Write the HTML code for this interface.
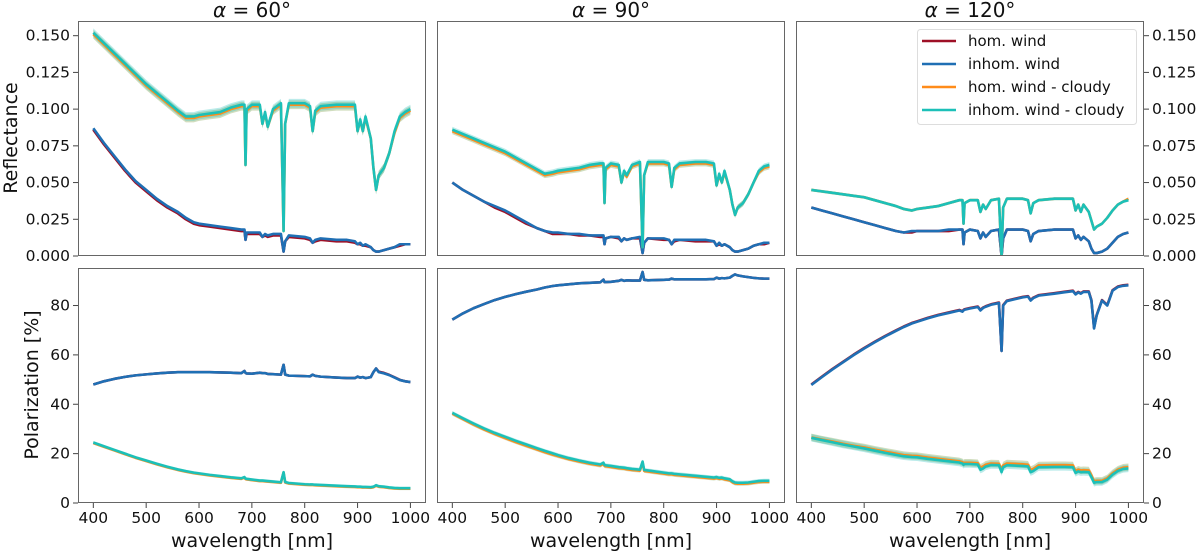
<!DOCTYPE html>
<html><head><meta charset="utf-8"><style>
body{margin:0;background:#fff}
svg{display:block;font-family:"DejaVu Sans","Liberation Sans",sans-serif}
</style></head><body>
<svg id="fig" width="1200" height="553" viewBox="0 0 1200 553"></svg>
<script>
const W=[400,420,440,460,480,500,520,540,560,575,590,600,620,640,660,680,686,688,690,700,715,720,725,730,740,755,760,763,770,800,810,815,820,830,860,880,895,900,905,910,915,925,930,935,940,950,960,970,980,990,1000];
// Reflectance alpha=60
const r60Inhom=[.087,.077,.068,.059,.051,.045,.039,.034,.030,.026,.023,.022,.021,.020,.019,.018,.018,.011,.016,.016,.016,.013,.015,.014,.015,.015,.003,.010,.014,.013,.012,.009,.011,.012,.011,.011,.010,.008,.009,.007,.008,.006,.004,.003,.003,.004,.005,.006,.008,.008,.008];
const r60Hom=[.086,.076,.067,.058,.050,.044,.038,.033,.029,.025,.022,.021,.020,.019,.018,.017,.017,.011,.015,.015,.015,.013,.014,.013,.014,.014,.003,.010,.013,.012,.011,.009,.010,.011,.010,.010,.009,.008,.008,.007,.007,.006,.004,.003,.003,.004,.005,.006,.007,.008,.008];
const r60InhomC=[.152,.145,.138,.131,.124,.117,.111,.105,.099,.095,.095,.096,.097,.098,.101,.103,.103,.062,.100,.103,.103,.090,.098,.088,.100,.104,.017,.090,.104,.104,.102,.085,.099,.102,.103,.103,.103,.085,.093,.085,.095,.080,.060,.045,.055,.060,.070,.085,.095,.098,.100];
const r60HomC=[.151,.144,.137,.130,.123,.116,.110,.104,.098,.094,.094,.095,.096,.097,.100,.102,.102,.062,.099,.102,.102,.090,.097,.088,.099,.103,.017,.090,.103,.103,.101,.085,.098,.101,.102,.102,.102,.085,.092,.085,.094,.080,.060,.045,.055,.060,.070,.084,.094,.097,.099];
// Reflectance alpha=90
const r90Inhom=[.050,.045,.041,.037,.034,.031,.027,.023,.019,.017,.016,.016,.015,.015,.014,.014,.014,.008,.012,.013,.013,.010,.012,.011,.012,.013,.002,.009,.012,.012,.011,.008,.011,.011,.011,.011,.010,.007,.009,.007,.008,.006,.004,.003,.003,.004,.005,.007,.008,.009,.009];
const r90Hom=[.050,.045,.041,.037,.033,.030,.026,.022,.019,.017,.015,.015,.015,.014,.014,.013,.013,.008,.012,.013,.012,.010,.012,.011,.012,.012,.002,.009,.012,.011,.011,.008,.010,.011,.010,.010,.010,.007,.008,.007,.008,.006,.004,.003,.003,.004,.005,.007,.008,.008,.009];
const r90InhomC=[.086,.083,.080,.077,.074,.071,.067,.063,.059,.056,.057,.058,.059,.060,.062,.063,.063,.036,.060,.063,.062,.050,.058,.055,.062,.064,.006,.055,.064,.064,.063,.047,.060,.063,.064,.064,.063,.048,.056,.050,.058,.045,.035,.028,.033,.036,.042,.050,.058,.061,.062];
const r90HomC=[.085,.082,.079,.076,.073,.070,.066,.062,.058,.055,.056,.057,.058,.059,.061,.062,.062,.036,.059,.062,.061,.050,.057,.054,.061,.063,.006,.055,.063,.063,.062,.047,.059,.062,.063,.063,.062,.048,.055,.050,.057,.045,.035,.028,.033,.036,.042,.050,.057,.060,.061];
// Reflectance alpha=120
const r120Inhom=[.033,.031,.029,.027,.025,.023,.021,.019,.017,.016,.017,.017,.017,.017,.018,.018,.018,.008,.016,.018,.017,.012,.016,.013,.017,.018,.000,.012,.018,.018,.017,.010,.015,.017,.018,.018,.018,.012,.014,.011,.013,.010,.005,.002,.002,.003,.005,.009,.013,.015,.016];
const r120Hom=[.033,.031,.029,.027,.025,.023,.021,.019,.017,.016,.016,.017,.017,.017,.017,.018,.018,.008,.016,.018,.017,.012,.016,.013,.017,.018,.000,.012,.018,.018,.017,.010,.015,.017,.018,.018,.018,.012,.014,.011,.013,.010,.005,.002,.002,.003,.005,.009,.013,.015,.016];
const r120InhomC=[.045,.044,.043,.042,.041,.040,.038,.036,.034,.032,.031,.032,.033,.034,.036,.038,.038,.022,.036,.038,.038,.030,.035,.032,.038,.039,.000,.033,.039,.039,.038,.029,.036,.038,.039,.039,.039,.031,.035,.030,.035,.030,.024,.018,.020,.022,.026,.031,.035,.037,.038];
const r120HomC=[.045,.044,.043,.042,.041,.040,.038,.036,.034,.032,.031,.032,.033,.034,.036,.038,.038,.022,.036,.038,.038,.030,.035,.032,.038,.039,.000,.033,.039,.039,.038,.029,.036,.038,.039,.039,.039,.031,.035,.030,.035,.030,.024,.018,.020,.022,.026,.031,.035,.037,.039];
// Polarization alpha=60
const p60Inhom=[48,49.3,50.3,51.1,51.7,52.1,52.5,52.8,53,53,53,53,53,52.9,52.8,52.6,53.5,52.7,52.5,52.4,52.8,52.6,52.6,52.3,52.2,52,56,52,51.6,51.4,51.3,52,51.5,51.2,50.8,50.6,50.6,51.2,50.8,51,50.6,51,53,54.5,53,52.5,51.8,50.8,49.8,49.3,49];
const p60Hom=[48,49.3,50.3,51.1,51.7,52.1,52.5,52.8,53,53,53,53,53,52.9,52.8,52.6,53.5,52.7,52.5,52.4,52.8,52.6,52.6,52.3,52.2,52,56,52,51.6,51.4,51.3,52,51.5,51.2,50.8,50.6,50.6,51.2,50.8,51,50.6,51,53,54.5,53.2,52.7,51.9,50.9,49.9,49.3,49];
const p60InhomC=[24.5,23,21.5,20,18.5,17.2,15.9,14.7,13.6,12.9,12.3,12,11.4,10.9,10.4,10,10.5,9.9,9.8,9.5,9.1,9.1,9,8.9,8.7,8.4,12.5,8.5,8.1,7.6,7.5,7.5,7.4,7.3,7,6.8,6.7,6.6,6.6,6.5,6.5,6.4,6.6,7.2,6.8,6.6,6.3,6.1,6,6,6];
const p60HomC=[24.3,22.8,21.3,19.8,18.3,17,15.7,14.5,13.4,12.7,12.1,11.8,11.2,10.7,10.2,9.8,10.3,9.7,9.6,9.3,8.9,8.9,8.8,8.7,8.5,8.2,12.3,8.3,7.9,7.4,7.3,7.3,7.2,7.1,6.8,6.6,6.5,6.4,6.4,6.3,6.3,6.2,6.4,7,6.6,6.4,6.1,5.9,5.8,5.8,5.8];
// Polarization alpha=90
const p90Inhom=[74.3,76.8,78.9,80.6,82.2,83.5,84.6,85.6,86.5,87.3,87.9,88.2,88.6,89,89.2,89.4,90.5,89.5,89.5,89.6,90,90.4,90,90.2,90.1,90.1,93.6,90.4,90.2,90.4,90.5,90.9,90.6,90.6,90.6,90.6,90.7,91.3,90.9,91.1,91,91.3,92,92.6,92.2,91.8,91.5,91.2,91,90.9,90.9];
const p90Hom=[74.3,76.8,78.9,80.6,82.2,83.5,84.6,85.6,86.5,87.3,87.9,88.2,88.6,89,89.2,89.4,90.5,89.5,89.5,89.6,90,90.4,90,90.2,90.1,90.1,93.6,90.4,90.2,90.4,90.5,90.9,90.6,90.6,90.6,90.6,90.7,91.3,90.9,91.1,91,91.3,92,92.6,92.2,91.8,91.5,91.2,91,90.9,90.9];
const p90InhomC=[36.5,34.3,32.2,30.2,28.4,26.8,25.2,23.7,22.2,21.1,20.1,19.4,18.2,17.2,16.3,15.6,16.3,15.4,15.3,15,14.5,14.4,14.3,14.1,13.8,13.5,16.8,13.4,13.2,12.3,12,12,11.8,11.6,11,10.6,10.3,10.5,10.2,10.3,10,9.6,8.8,8.3,8.2,8.2,8.3,8.6,8.9,9,9];
const p90HomC=[36.2,34,31.8,29.8,28,26.3,24.7,23.2,21.7,20.6,19.6,19,17.8,16.8,15.9,15.2,15.9,15,14.9,14.6,14.1,14,13.9,13.7,13.4,13.1,16.4,13,12.8,11.9,11.6,11.6,11.4,11.2,10.6,10.2,9.9,10.1,9.8,9.9,9.6,9.2,8.4,7.9,7.8,7.8,7.9,8.2,8.5,8.6,8.6];
// Polarization alpha=120
const p120Inhom=[47.8,51,54.1,57,59.9,62.6,65.1,67.5,69.7,71.3,72.7,73.4,74.8,76,77,78,77.5,78,78.3,78.8,79.4,78,79,79.5,80.3,81,61.6,80,81.8,83.3,83.6,82,83,84,84.8,85.4,85.8,84.5,85.3,84.8,85.5,85.5,82,70.7,76,82,80,86,87.5,88,88.2];
const p120Hom=[48,51.2,54.3,57.2,60.1,62.8,65.3,67.7,69.9,71.5,72.9,73.6,75,76.2,77.2,78.2,77.7,78.2,78.5,79,79.6,78.2,79.2,79.7,80.5,81.2,61.6,80.2,82,83.5,83.8,82.2,83.2,84.2,85,85.6,86,84.7,85.5,85,85.7,85.7,82.2,71,76.2,82.2,80.2,86.2,87.7,88.2,88.4];
const p120InhomC=[26.4,25.5,24.6,23.7,22.9,22.1,21.2,20.3,19.5,18.9,18.6,18.5,17.9,17.4,16.9,16.4,16,15.5,15.8,15.8,15.6,13.5,14,14.8,15.4,15.3,12.5,14.5,15.3,15,14.8,12.5,13,14.5,14.6,14.6,14.5,12.2,12.8,12.5,12.6,12.5,10.5,8.2,8.5,8.5,9.5,11.5,13,13.8,14];
const p120HomC=[26.6,25.7,24.9,24,23.2,22.5,21.6,20.8,20,19.4,19.1,19,18.4,17.9,17.4,16.9,16.5,16,16.3,16.3,16.1,14.3,14.8,15.5,16,15.9,13.5,15.2,16,15.7,15.5,13.4,13.8,15.2,15.3,15.3,15.2,12.9,13.5,13.2,13.3,13.2,11.2,8.8,9,9,10,12,13.5,14.3,14.5];
const xTicks=[400,500,600,700,800,900,1000];
const rTicks=[0,0.025,0.05,0.075,0.1,0.125,0.15];
const rTickLabels=["0.000","0.025","0.050","0.075","0.100","0.125","0.150"];
const pTicks=[0,20,40,60,80];
const titles=["60","90","120"];
const legendLabels=["hom. wind","inhom. wind","hom. wind - cloudy","inhom. wind - cloudy"];

const NS="http://www.w3.org/2000/svg";
const svg=document.getElementById('fig');
function el(tag,attrs,parent){const e=document.createElementNS(NS,tag);for(const k in attrs)e.setAttribute(k,attrs[k]);(parent||svg).appendChild(e);return e;}
const COL={hom:"#9e1026",inhom:"#1f6fb4",homC:"#ff8c1a",inhomC:"#1cc0b8"};
const colX=[[78,426],[437,785],[796,1144]];
const rowY=[[21,256],[268,503]];
const XMIN=371,XMAX=1029.5;
const yLims=[[0,0.16],[0,95.2]];
const panels=[
 [[r60Hom,r60Inhom,r60HomC,r60InhomC,0.003],[p60Hom,p60Inhom,p60HomC,p60InhomC,0.6]],
 [[r90Hom,r90Inhom,r90HomC,r90InhomC,0.002],[p90Hom,p90Inhom,p90HomC,p90InhomC,0.8]],
 [[r120Hom,r120Inhom,r120HomC,r120InhomC,0.001],[p120Hom,p120Inhom,p120HomC,p120InhomC,1.5]]];
for(let c=0;c<3;c++){for(let r=0;r<2;r++){
 const [x0,x1]=colX[c],[y0,y1]=rowY[r],[lo,hi]=yLims[r];
 const sx=v=>x0+(v-XMIN)/(XMAX-XMIN)*(x1-x0);
 const sy=v=>y1-(v-lo)/(hi-lo)*(y1-y0);
 const g=el('g',{});
 
 
 const cp='cp'+c+r;
 const d=el('defs',{},g);const clip=el('clipPath',{id:cp},d);el('rect',{x:x0,y:y0,width:x1-x0,height:y1-y0},clip);
 const [hom,inh,homC,inhC,bw]=panels[c][r];
 const plot=el('g',{'clip-path':'url(#'+cp+')'},g);
 [[homC,'rgba(150,180,110,0.45)'],[inhC,'rgba(30,190,185,0.3)']].forEach(([arr,fc])=>{
  let pts=W.map((w,i)=>sx(w)+','+sy(arr[i]+bw));
  pts=pts.concat(W.map((w,i)=>sx(w)+','+sy(arr[i]-bw)).reverse());
  const b=el('polygon',{points:pts.join(' '),fill:fc,stroke:'none'},plot);
  
  
 });
 [['hom',hom],['inhom',inh],['homC',homC],['inhomC',inhC]].forEach(([k,arr])=>{
  const p=el('polyline',{points:W.map((w,i)=>sx(w)+','+sy(arr[i])).join(' '),fill:'none',stroke:COL[k],'stroke-width':2.6,'stroke-linejoin':'round'},plot);
  
  
 });
 el('rect',{x:x0+0.5,y:y0+0.5,width:x1-x0-1,height:y1-y0-1,fill:'none',stroke:'#666','stroke-width':1},g);
 if(r==1){xTicks.forEach(t=>{const X=sx(t);el('line',{x1:X,y1:y1,x2:X,y2:y1+5,stroke:'#444'},g);
  const tx=el('text',{x:X,y:y1+20,'text-anchor':'middle','font-size':15.5,fill:'#111'},g);tx.textContent=t;
  
  });
  const xl=el('text',{x:(x0+x1)/2,y:547,'text-anchor':'middle','font-size':19,fill:'#111'},g);xl.textContent='wavelength [nm]';
  
  }
 if(r==0){const tt=el('text',{x:(x0+x1)/2,y:17,'text-anchor':'middle','font-size':20,fill:'#111'},g);
  tt.innerHTML='<tspan font-style="italic">α</tspan> = '+titles[c]+'°';
  
  }
 if(c!=1){const ticks=r==0?rTicks:pTicks;const left=c==0;
  ticks.forEach((t,i)=>{const Y=sy(t);const xe=left?x0:x1;
   el('line',{x1:xe,y1:Y,x2:left?xe-5:xe+5,y2:Y,stroke:'#444'},g);
   const tx=el('text',{x:left?xe-8:xe+8,y:Y+5,'text-anchor':left?'end':'start','font-size':15.5,fill:'#111'},g);
   tx.textContent=r==0?rTickLabels[i]:t;
   
   });}
}}
const yl1=el('text',{x:0,y:0,transform:'translate(17,138) rotate(-90)','text-anchor':'middle','font-size':19,fill:'#111'});yl1.textContent='Reflectance';


const yl2=el('text',{x:0,y:0,transform:'translate(38,385) rotate(-90)','text-anchor':'middle','font-size':19,fill:'#111'});yl2.textContent='Polarization [%]';


const lg=el('g',{});


el('rect',{x:917.5,y:29.5,width:219,height:95,rx:3,fill:'#fff',stroke:'#ddd'},lg);
['hom','inhom','homC','inhomC'].forEach((k,i)=>{const Y=41+i*23;
 el('line',{x1:922,y1:Y,x2:956,y2:Y,stroke:COL[k],'stroke-width':2.6},lg);
 const t=el('text',{x:968,y:Y+5,'font-size':15,fill:'#111'},lg);t.textContent=legendLabels[i];
 
 });
</script>
</body></html>
